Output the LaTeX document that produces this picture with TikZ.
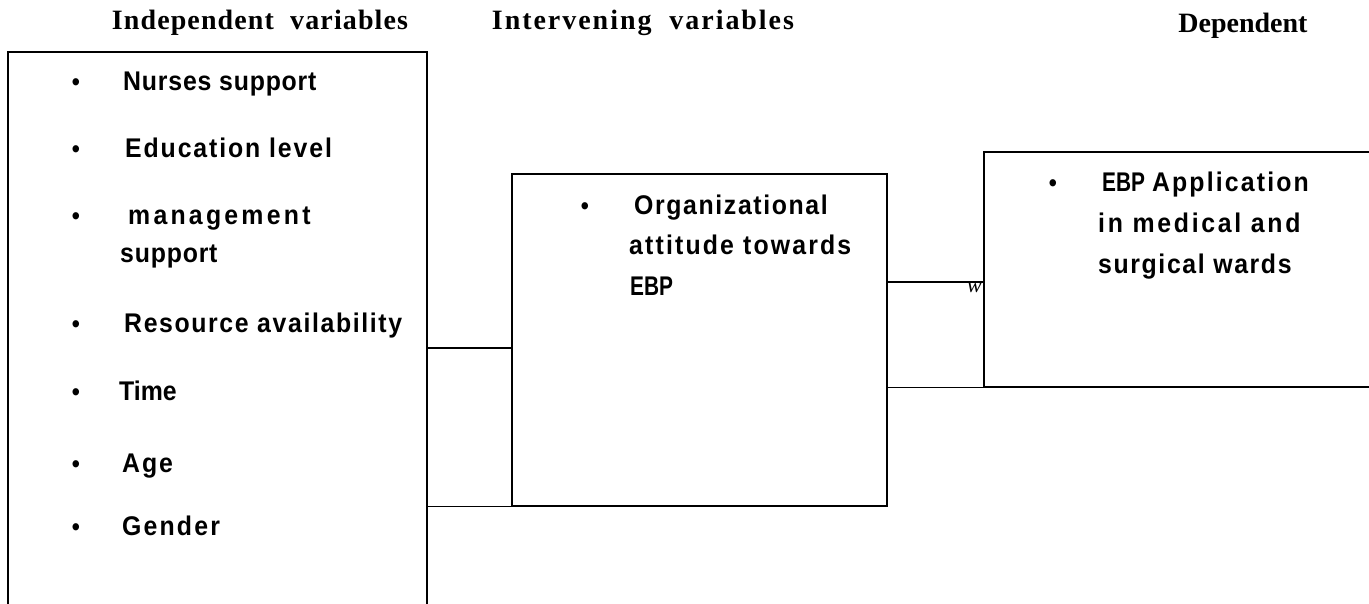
\documentclass[tikz,border=0pt]{standalone}
\usepackage{fontspec}
\usepackage{graphicx}
\setmainfont{Liberation Serif}
\newfontfamily\sansf{Liberation Sans}[FakeStretch=0.92]
\newcommand{\lsp}[2]{{\addfontfeature{LetterSpace=#1}#2}}
\newcommand{\cond}[1]{\scalebox{0.84}[1]{#1}}
\tikzset{
  box/.style={draw, line width=1.1pt, inner sep=0pt, minimum width=#1},
  item/.style={anchor=base west, inner sep=0pt, font=\sansf\bfseries\fontsize{27}{32}\selectfont},
  dot/.style={anchor=base, inner sep=0pt, font=\sansf\bfseries\fontsize{25}{30}\selectfont},
  head/.style={anchor=base, inner sep=0pt, font=\rmfamily\bfseries\fontsize{28}{32}\selectfont},
  link/.style={line width=1.1pt}
}
\begin{document}
\begin{tikzpicture}[x=1pt,y=-1pt]
\useasboundingbox (0,0) rectangle (1369,604);
\clip (0,0) rectangle (1369,604);
% boxes
\node[box=419pt, minimum height=588pt] (ind) at (217.5,346) {};
\node[box=375pt, minimum height=332pt] (mid) at (699.5,340) {};
\node[box=416pt, minimum height=235pt] (rt) at (1192,269.5) {};
% connectors
\coordinate (c1) at (0,348);
\coordinate (c2) at (0,282);
\draw[link] (c1 -| ind.east) -- (c1 -| mid.west);
\draw[link] (ind.east |- mid.south) -- (mid.south east);
\draw[link] (c2 -| mid.east) -- (c2 -| rt.west);
\draw[link] (mid.east |- rt.south) -- (rt.south west);
\node[anchor=base east, inner sep=0pt, font=\rmfamily\itshape\fontsize{22}{26}\selectfont] (w) at (982,293) {w};
% headings
\node[head] (h1) at (260,30) {\lsp{4}{Independent\ \ variables}};
\node[head] (h2) at (643,30) {\lsp{7}{Intervening\ \ variables}};
\node[head] (h3) at (1243,33) {\lsp{0}{Dependent}};
% left items
\node[dot] (b1) at (76,91) {•};
\node[item] (t1) at (123,91) {\lsp{3}{Nurses support}};
\node[dot] (b2) at (76,158) {•};
\node[item] (t2) at (125,158) {\lsp{7}{Education level}};
\node[dot] (b3) at (76,225) {•};
\node[item] (t3) at (128,225) {\lsp{12}{management}};
\node[item] (t3b) at (120,263) {\lsp{3}{support}};
\node[dot] (b4) at (76,333) {•};
\node[item] (t4) at (124,333) {\lsp{6}{Resource availability}};
\node[dot] (b5) at (76,400) {•};
\node[item] (t5) at (119,400) {Time};
\node[dot] (b6) at (76,472) {•};
\node[item] (t6) at (122,472) {\lsp{7}{Age}};
\node[dot] (b7) at (76,535) {•};
\node[item] (t7) at (122,535) {\lsp{8}{Gender}};
% middle items
\node[dot] (b8) at (585,215) {•};
\node[item] (t8) at (634,215) {\lsp{6}{Organizational}};
\node[item] (t8b) at (629,255) {\lsp{8}{attitude towards}};
\node[item] (t8c) at (630,296) {\cond{EBP}};
% right items
\node[dot] (b9) at (1053,192) {•};
\node[item] (t9) at (1102,192) {\cond{EBP} \lsp{8}{Application}};
\node[item] (t9b) at (1098,233) {\lsp{10}{in medical and}};
\node[item] (t9c) at (1098,274) {\lsp{6}{surgical wards}};
\end{tikzpicture}
\end{document}
